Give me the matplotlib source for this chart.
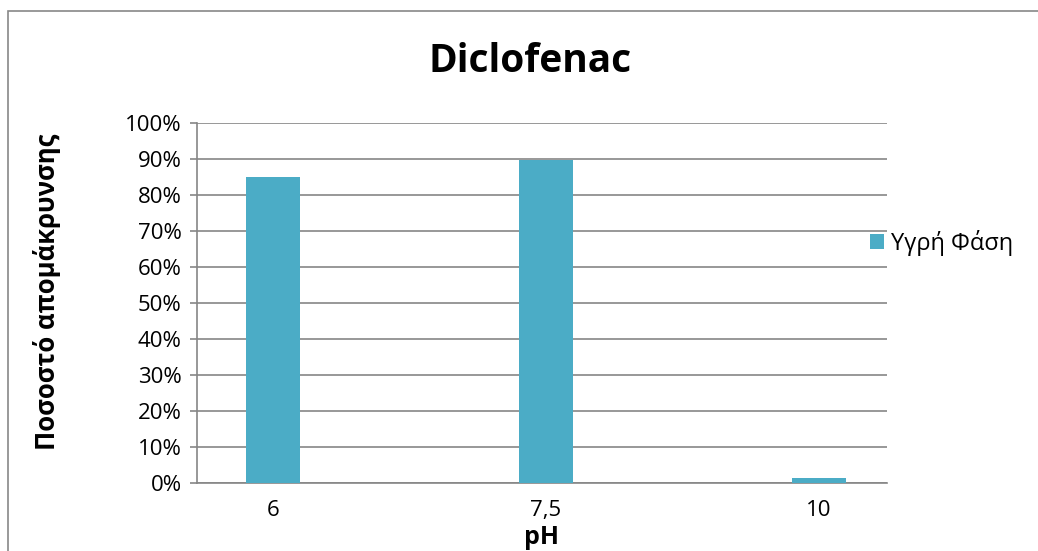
import matplotlib
matplotlib.use("Agg")
import matplotlib.pyplot as plt
from matplotlib.patches import Rectangle
from matplotlib.ticker import PercentFormatter

plt.rcParams['font.family'] = ['Open Sans', 'DejaVu Sans']

categories = ["6", "7,5", "10"]
removal = [85.0, 89.7, 1.5]
series_name = "Υγρή Φάση"

bar_color = "#4BACC6"
grid_color = "#868686"

fig = plt.figure(figsize=(10.38, 5.51), dpi=100)
W, H = 1038, 551

# outer chart frame
fig.add_artist(Rectangle((8 / W, -0.05), 1.2, 1 - 11 / H + 0.05,
                         transform=fig.transFigure, fill=False,
                         edgecolor="#888888", linewidth=1.2))

ax = fig.add_axes([197 / W, 1 - 483 / H, (887 - 197) / W, (483 - 123) / H])
x = list(range(len(categories)))
ax.bar(x, removal, width=0.198, color=bar_color, label=series_name, zorder=3)

ax.set_xlim(-0.278, 2.249)
ax.set_ylim(0, 100)
ax.set_yticks(range(0, 101, 10))
ax.yaxis.set_major_formatter(PercentFormatter(decimals=0))
ax.set_xticks(x)
ax.set_xticklabels(categories)

ax.grid(axis="y", color=grid_color, linewidth=1.2, zorder=0)
for side in ("top", "right"):
    ax.spines[side].set_visible(False)
ax.spines["left"].set_color(grid_color)
ax.spines["bottom"].set_color(grid_color)
ax.spines["left"].set_linewidth(1.2)
ax.spines["bottom"].set_linewidth(1.2)
ax.tick_params(axis="y", length=5, color=grid_color, width=1.2, labelsize=16, pad=6)
ax.tick_params(axis="x", length=0, labelsize=16, pad=12)

ax.set_xlabel("pH", fontsize=18, fontweight="bold", va="center")
ax.xaxis.set_label_coords(0.5, (483 - 538) / 360)
fig.text(47 / W, 1 - 292 / H, "Ποσοστό απομάκρυνσης", rotation=90,
         ha="center", va="center", fontsize=18.5, fontweight="bold")
fig.text(530 / W, 1 - 62 / H, "Diclofenac", ha="center", va="center",
         fontsize=28, fontweight="bold")

ax.legend(loc="center left", bbox_to_anchor=(870 / W, 1 - 243 / H),
          bbox_transform=fig.transFigure, frameon=False, fontsize=17,
          handlelength=0.6, handleheight=0.6, handletextpad=0.3,
          borderaxespad=0, borderpad=0)

fig.savefig("out.png", dpi=100)
